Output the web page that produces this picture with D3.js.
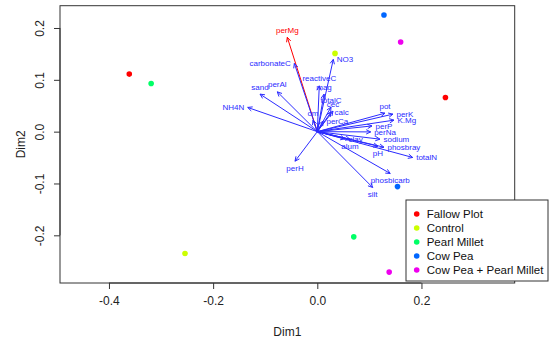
<!DOCTYPE html>
<html>
<head>
<meta charset="utf-8">
<script src="https://cdn.jsdelivr.net/npm/d3@7"></script>
<style>
  html, body { margin: 0; padding: 0; background: #fff; }
  svg { display: block; font-family: "Liberation Sans", Arial, sans-serif; }
</style>
</head>
<body>
<svg id="chart" width="550" height="341"></svg>
<script>
// ---- data ----
const groups = ["Fallow Plot", "Control", "Pearl Millet", "Cow Pea", "Cow Pea + Pearl Millet"];
const groupColors = ["#FF0000", "#CCFF00", "#00FF66", "#0066FF", "#EE00EE"];
const sampleGroup = ["Fallow Plot", "Fallow Plot", "Control", "Control", "Pearl Millet", "Pearl Millet", "Cow Pea", "Cow Pea", "Cow Pea + Pearl Millet", "Cow Pea + Pearl Millet"];
const sampleDim1 = [-0.361, 0.246, -0.254, 0.034, -0.319, 0.070, 0.128, 0.154, 0.160, 0.138];
const sampleDim2 = [0.111, 0.066, -0.235, 0.151, 0.093, -0.203, 0.225, -0.106, 0.173, -0.271];

const varNames = ["perMg", "carbonateC", "NO3", "reactiveC", "mag", "sand", "perAl", "NH4N",
  "totalC", "cec", "calc", "om", "perCa", "pot", "perK", "K.Mg", "perP", "perNa", "sodium",
  "clay", "alum", "pH", "phosbray", "totalN", "perH", "phosbicarb", "silt"];
const varDim1 = [-0.0576, -0.0441, 0.0307, 0.0038, 0.0129, -0.110, -0.0768, -0.1336,
  0.0263, 0.0301, 0.0263, -0.0083, 0.0109, 0.130, 0.1453, 0.1472, 0.105, 0.1025, 0.1203,
  0.0532, 0.0628, 0.1165, 0.128, 0.1831, -0.0428, 0.1400, 0.1063];
const varDim2 = [0.182, 0.1317, 0.1394, 0.0884, 0.0724, 0.0724, 0.0768, 0.0467,
  0.0473, 0.0396, 0.0376, 0.0222, 0.0203, 0.0357, 0.0338, 0.0222, 0.0110, -0.0005, -0.0145,
  -0.0139, -0.0145, -0.028, -0.030, -0.0498, -0.057, -0.0807, -0.1077];
// R-style text "pos" code: 1 below, 2 left, 3 above, 4 right
const varLabelPos = [3, 2, 4, 3, 3, 3, 3, 2,
  3, 3, 4, 3, 4, 3, 4, 4, 4, 4, 4,
  4, 1, 1, 4, 4, 1, 1, 1];
const highlightVar = "perMg";

const xTicks = [-0.4, -0.2, 0.0, 0.2];
const yTicks = [-0.2, -0.1, 0.0, 0.1, 0.2];
const xLabel = "Dim1";
const yLabel = "Dim2";

// ---- layout ----
const svg = d3.select("#chart");
const box = { left: 60, right: 514.7, top: 5.7, bottom: 283 };
const x = d3.scaleLinear().domain([-0.494, 0.379]).range([box.left, box.right]);
const y = d3.scaleLinear().domain([-0.292, 0.243]).range([box.bottom, box.top]);
const axisColor = "#333";

// plot frame
svg.append("rect")
  .attr("x", box.left).attr("y", box.top)
  .attr("width", box.right - box.left).attr("height", box.bottom - box.top)
  .attr("fill", "none").attr("stroke", axisColor).attr("stroke-width", 1);

// x axis
const xAxis = d3.axisBottom(x).tickValues(xTicks).tickSize(6).tickPadding(7)
  .tickFormat(d3.format(".1f"));
const gx = svg.append("g").attr("transform", `translate(0,${box.bottom})`).call(xAxis);
gx.select(".domain").attr("d", `M${x(xTicks[0])},0H${x(xTicks[xTicks.length-1])}`).attr("stroke", axisColor);
gx.selectAll(".tick line").attr("stroke", axisColor);
gx.selectAll(".tick text").attr("font-size", 12).attr("fill", "#222")
  .attr("font-family", "Liberation Sans, Arial, sans-serif")
  .text(d => d3.format(".1f")(d).replace("−", "-"));

// y axis (labels rotated like base R)
const yAxis = d3.axisLeft(y).tickValues(yTicks).tickSize(6).tickFormat(d3.format(".1f"));
const gy = svg.append("g").attr("transform", `translate(${box.left},0)`).call(yAxis);
gy.select(".domain").attr("d", `M0,${y(yTicks[0])}V${y(yTicks[yTicks.length-1])}`).attr("stroke", axisColor);
gy.selectAll(".tick line").attr("stroke", axisColor);
gy.selectAll(".tick text")
  .attr("font-size", 12).attr("fill", "#222")
  .attr("font-family", "Liberation Sans, Arial, sans-serif")
  .attr("x", null).attr("dy", null)
  .attr("text-anchor", "middle")
  .attr("transform", `translate(${43.8 - box.left},0) rotate(-90)`)
  .text(d => d3.format(".1f")(d).replace("−", "-"));

// axis titles
svg.append("text").attr("x", (box.left + box.right) / 2).attr("y", 336)
  .attr("text-anchor", "middle").attr("font-size", 12).attr("fill", "#222").text(xLabel);
svg.append("text")
  .attr("transform", `translate(25.3,${(box.top + box.bottom) / 2}) rotate(-90)`)
  .attr("text-anchor", "middle").attr("font-size", 12).attr("fill", "#222").text(yLabel);

// ---- variable arrows ----
const vars = varNames.map((n, i) => ({ name: n, dx: varDim1[i], dy: varDim2[i], pos: varLabelPos[i] }));
const gArrows = svg.append("g");
const headLen = 5, headAng = Math.PI / 7;
vars.forEach(v => {
  const col = v.name === highlightVar ? "#FF0000" : "#2B2BFF";
  const x0 = x(0), y0 = y(0), x1 = x(v.dx), y1 = y(v.dy);
  const ang = Math.atan2(y1 - y0, x1 - x0);
  gArrows.append("line").attr("x1", x0).attr("y1", y0).attr("x2", x1).attr("y2", y1)
    .attr("stroke", col).attr("stroke-width", 1);
  const hp = d3.path();
  hp.moveTo(x1 - headLen * Math.cos(ang - headAng), y1 - headLen * Math.sin(ang - headAng));
  hp.lineTo(x1, y1);
  hp.lineTo(x1 - headLen * Math.cos(ang + headAng), y1 - headLen * Math.sin(ang + headAng));
  gArrows.append("path").attr("d", hp.toString()).attr("fill", "none")
    .attr("stroke", col).attr("stroke-width", 1);
});
// labels
const fs = 8, off = 3.5;
vars.forEach(v => {
  const col = v.name === highlightVar ? "#FF0000" : "#2B2BFF";
  const px = x(v.dx), py = y(v.dy);
  let tx = px, ty = py, anchor = "middle";
  if (v.pos === 1) { ty = py + off + fs * 0.75; }
  else if (v.pos === 3) { ty = py - off - 1; }
  else if (v.pos === 2) { tx = px - off; ty = py + fs * 0.36; anchor = "end"; }
  else if (v.pos === 4) { tx = px + off; ty = py + fs * 0.36; anchor = "start"; }
  svg.append("text").attr("x", tx).attr("y", ty).attr("text-anchor", anchor)
    .attr("font-size", fs).attr("fill", col).text(v.name);
});

// ---- sample points ----
const colorOf = d3.scaleOrdinal().domain(groups).range(groupColors);
svg.append("g").selectAll("circle")
  .data(sampleGroup.map((g, i) => ({ g, d1: sampleDim1[i], d2: sampleDim2[i] })))
  .join("circle")
  .attr("cx", d => x(d.d1)).attr("cy", d => y(d.d2)).attr("r", 2.8)
  .attr("fill", d => colorOf(d.g));

// ---- legend ----
const lg = svg.append("g");
lg.append("rect").attr("x", 406).attr("y", 200).attr("width", 142).attr("height", 81)
  .attr("fill", "#fff").attr("stroke", axisColor).attr("stroke-width", 1);
groups.forEach((g, i) => {
  const cy = 214 + i * 14;
  lg.append("circle").attr("cx", 416.7).attr("cy", cy).attr("r", 2.8).attr("fill", colorOf(g));
  lg.append("text").attr("x", 426.7).attr("y", cy + 4.1).attr("font-size", 11.5)
    .attr("fill", "#111").text(g);
});
</script>
</body>
</html>
